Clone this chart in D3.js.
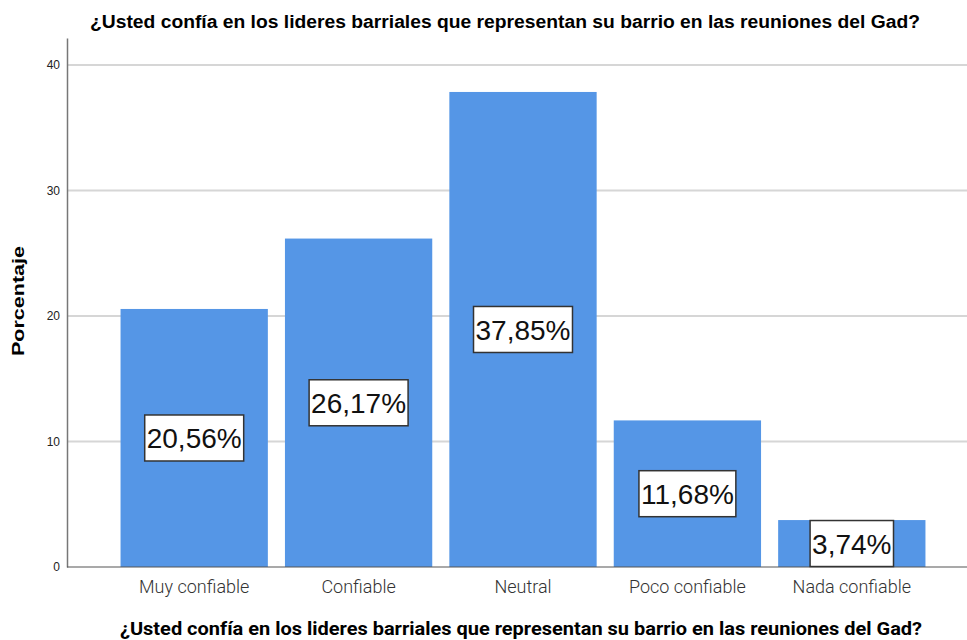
<!DOCTYPE html>
<html lang="es">
<head>
<meta charset="UTF-8">
<title>Porcentaje</title>
<script src="https://cdn.jsdelivr.net/npm/d3@7"></script>
<style>
    body { margin: 0; background: #fff; }
    svg { display: block; font-family: "Liberation Sans", Arial, sans-serif; }
    .grid line { stroke: #d6d6d6; stroke-width: 2; }
    .tick text { fill: #222; font-size: 12px; }
</style>
</head>
<body>
<svg id="chart" width="967" height="640"></svg>
<script>
    // data
    let categories = ['Muy confiable', 'Confiable', 'Neutral', 'Poco confiable', 'Nada confiable'];
    let percents = [20.56, 26.17, 37.85, 11.68, 3.74];
    let yTicks = [0, 10, 20, 30, 40];
    let title = '¿Usted confía en los lideres barriales que representan su barrio en las reuniones del Gad?';

    let svg = d3.select('svg#chart');
    let m = {left: 67, right: 0, top: 38, bottom: 73};
    let W = 967, H = 640;

    let yScale = d3.scaleLinear().domain([0, 42.15]).range([H - m.bottom, m.top]);
    let xScale = d3.scaleBand().domain(categories).range([112, 934]).paddingInner(0.104).paddingOuter(0.052);

    // grid lines
    svg.append('g')
        .attr('class', 'grid')
        .selectAll('line')
        .data(yTicks.slice(1))
        .enter()
        .append('line')
        .attr('x1', m.left).attr('x2', W)
        .attr('y1', d => yScale(d)).attr('y2', d => yScale(d));

    // bars
    svg.append('g')
        .selectAll('rect')
        .data(percents)
        .enter()
        .append('rect')
        .attr('x', (d, i) => xScale(categories[i]))
        .attr('width', xScale.bandwidth())
        .attr('y', d => yScale(d))
        .attr('height', d => yScale(0) - yScale(d))
        .style('fill', '#5596e6');

    // axes
    let yAxis = svg.append('g')
        .attr('transform', 'translate(' + m.left + ',0)')
        .call(d3.axisLeft(yScale).tickValues(yTicks).tickSize(0).tickPadding(7));
    yAxis.select('.domain').attr('stroke', '#777').attr('stroke-width', 1.5);

    let xAxis = svg.append('g')
        .attr('transform', 'translate(0,' + yScale(0) + ')')
        .call(d3.axisBottom(xScale).tickSize(0).tickPadding(13));
    xAxis.select('.domain').attr('d', 'M' + m.left + ',0H' + W).attr('stroke', '#555').attr('stroke-width', 1.2);
    xAxis.selectAll('.tick text').style('font-size', '18px').style('fill', '#333')
        .style('font-family', 'Roboto, sans-serif').style('font-weight', 300);

    // value labels
    let labels = svg.append('g')
        .selectAll('g')
        .data(percents)
        .enter()
        .append('g')
        .attr('transform', (d, i) => 'translate(' + (xScale(categories[i]) + xScale.bandwidth() / 2) + ',' + yScale(d / 2) + ')');
    labels.append('text')
        .attr('text-anchor', 'middle')
        .attr('dy', '0.36em')
        .style('font-size', '28px')
        .style('fill', '#111')
        .text(d => d.toFixed(2).replace('.', ',') + '%');
    labels.each(function () {
        let g = d3.select(this);
        let b = g.select('text').node().getBBox();
        g.insert('rect', 'text')
            .attr('x', b.x - 2).attr('y', -23)
            .attr('width', b.width + 4).attr('height', 46)
            .style('fill', '#fff').style('stroke', '#333').style('stroke-width', 1.5);
    });

    // titles
    svg.append('text')
        .attr('x', 505).attr('y', 28)
        .attr('text-anchor', 'middle')
        .attr('textLength', 830).attr('lengthAdjust', 'spacingAndGlyphs')
        .style('font-size', '18px').style('font-weight', 'bold')
        .text(title);
    svg.append('text')
        .attr('x', 521).attr('y', 635)
        .attr('text-anchor', 'middle')
        .attr('textLength', 802).attr('lengthAdjust', 'spacingAndGlyphs')
        .style('font-family', 'Roboto, sans-serif')
        .style('font-size', '18px').style('font-weight', 'bold')
        .text(title);
    svg.append('text')
        .attr('transform', 'translate(24,301) rotate(-90)')
        .attr('text-anchor', 'middle')
        .attr('textLength', 110).attr('lengthAdjust', 'spacingAndGlyphs')
        .style('font-size', '17px').style('font-weight', 'bold')
        .text('Porcentaje');
</script>
</body>
</html>
